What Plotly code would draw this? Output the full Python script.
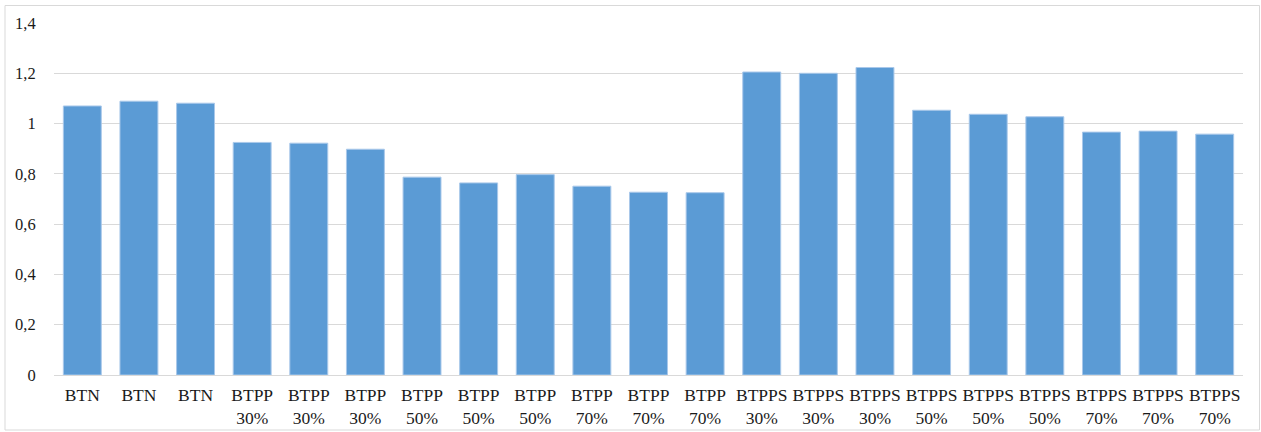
import plotly.graph_objects as go

categories = ["BTN", "BTN", "BTN",
              "BTPP<br>30%", "BTPP<br>30%", "BTPP<br>30%",
              "BTPP<br>50%", "BTPP<br>50%", "BTPP<br>50%",
              "BTPP<br>70%", "BTPP<br>70%", "BTPP<br>70%",
              "BTPPS<br>30%", "BTPPS<br>30%", "BTPPS<br>30%",
              "BTPPS<br>50%", "BTPPS<br>50%", "BTPPS<br>50%",
              "BTPPS<br>70%", "BTPPS<br>70%", "BTPPS<br>70%"]
values = [1.070, 1.089, 1.081,
          0.925, 0.922, 0.898,
          0.787, 0.764, 0.797,
          0.751, 0.727, 0.725,
          1.205, 1.200, 1.223,
          1.053, 1.037, 1.027,
          0.966, 0.970, 0.958]
y_ticks = [0, 0.2, 0.4, 0.6, 0.8, 1, 1.2, 1.4]

positions = list(range(len(categories)))

W, H = 1261, 432
ml, mr, mt, mb = 54, 18, 23, 57
pw, ph = W - ml - mr, H - mt - mb

fig = go.Figure(go.Bar(
    x=positions, y=values,
    marker=dict(color="#5b9bd5", line=dict(color="#a9c8ea", width=1)),
    width=0.67,
    hoverinfo="y",
))

font_family = "Liberation Serif"

fig.update_layout(
    width=W, height=H,
    margin=dict(l=ml, r=mr, t=mt, b=mb, pad=0, autoexpand=False),
    paper_bgcolor="white", plot_bgcolor="white",
    separators=", ",
    showlegend=False,
    font=dict(family=font_family, color="#1a1a1a", size=17),
    xaxis=dict(
        tickmode="array", tickvals=positions, ticktext=categories,
        range=[-0.5, len(categories) - 0.5],
        showgrid=False, zeroline=False, showline=True,
        linecolor="#d9d9d9", linewidth=1,
        ticks="outside", ticklen=4, tickcolor="rgba(0,0,0,0)",
        tickfont=dict(size=17.5, family=font_family),
        automargin=False,
        fixedrange=True,
    ),
    yaxis=dict(
        range=[0, 1.4], tickmode="array", tickvals=y_ticks,
        showgrid=True, gridcolor="#d9d9d9", gridwidth=1,
        zeroline=False, showline=False, ticks="outside", ticklen=14,
        tickcolor="rgba(0,0,0,0)",
        tickfont=dict(size=16.5, family=font_family),
        automargin=False,
        fixedrange=True,
    ),
    shapes=[dict(
        type="rect", xref="paper", yref="paper",
        x0=(5 - ml) / pw, x1=(1259.5 - ml) / pw,
        y0=(H - mb - 430) / ph, y1=(H - mb - 5.5) / ph,
        line=dict(color="#d9d9d9", width=1), fillcolor="rgba(0,0,0,0)",
        layer="below",
    )],
)

fig.write_html("out.html", config={"displayModeBar": False})
